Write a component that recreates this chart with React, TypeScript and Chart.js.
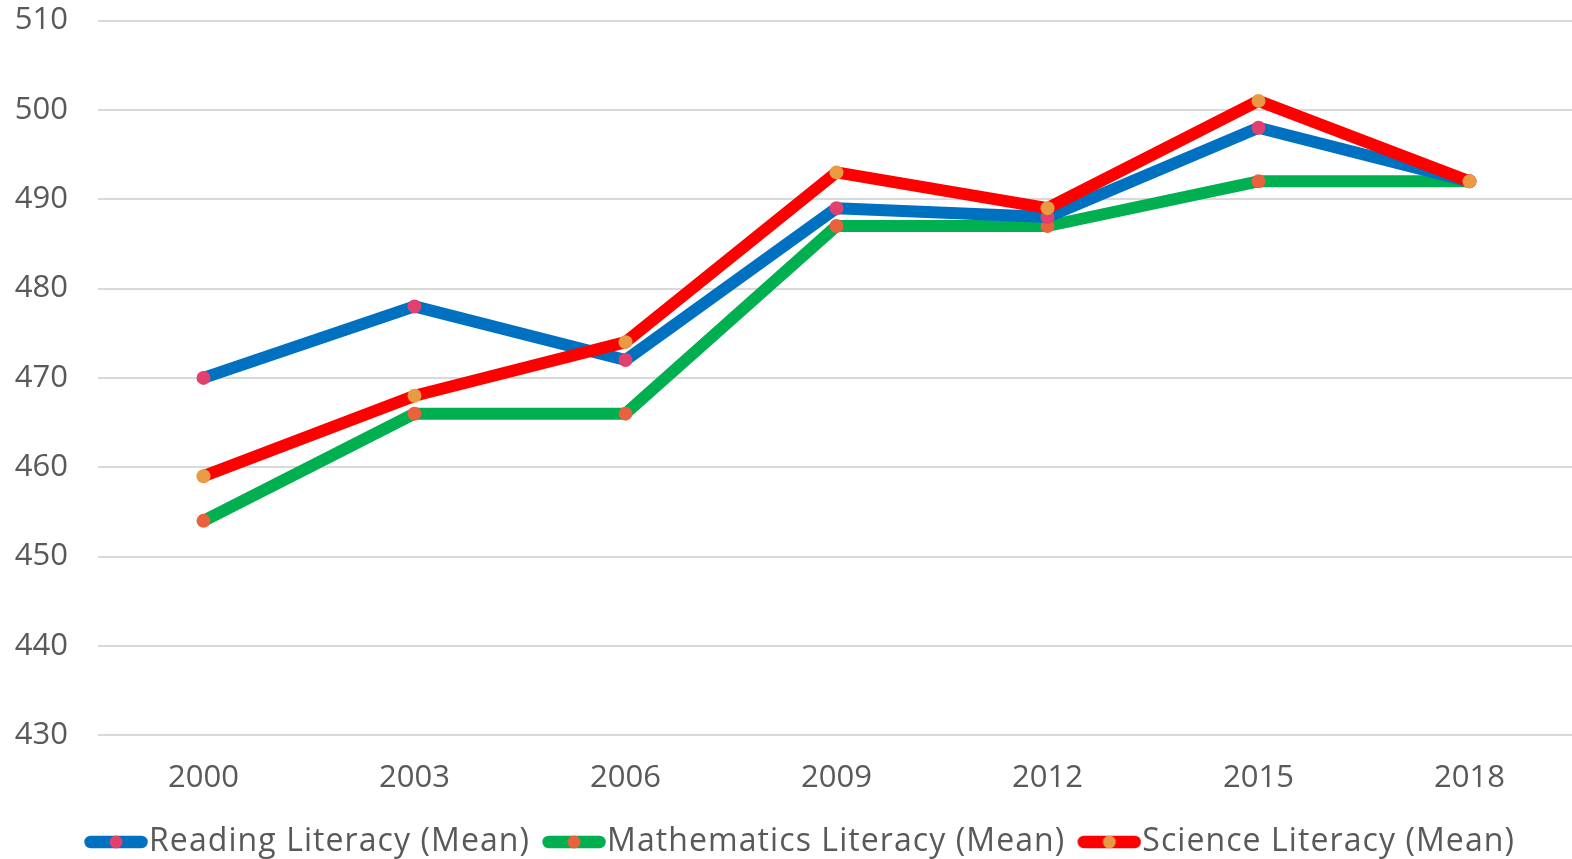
import React, { useEffect, useRef } from "react";
import { Chart, registerables } from "chart.js";

Chart.register(...registerables);

const years = ["2000", "2003", "2006", "2009", "2012", "2015", "2018"];
const readingMean = [470, 478, 472, 489, 488, 498, 492];
const mathMean = [454, 466, 466, 487, 487, 492, 492];
const scienceMean = [459, 468, 474, 493, 489, 501, 492];
const seriesLabels = [
  "Reading Literacy (Mean)",
  "Mathematics Literacy (Mean)",
  "Science Literacy (Mean)",
];
const lineColors = ["#0070c0", "#00b050", "#ff0000"];
const pointColors = ["#e2416f", "#e8623d", "#ea9a42"];

const FONT = "'Open Sans', sans-serif";
const TEXT = "#595959";

// swatch image: blank left part, then a 64px rounded line with a dot
function legendSwatch(line: string, dot: string) {
  const c = document.createElement("canvas");
  c.width = 85;
  c.height = 14;
  const ctx = c.getContext("2d")!;
  const off = 21;
  ctx.strokeStyle = line;
  ctx.lineWidth = 12.5;
  ctx.lineCap = "round";
  ctx.beginPath();
  ctx.moveTo(off + 6.5, 7);
  ctx.lineTo(off + 64 - 6.5, 7);
  ctx.stroke();
  ctx.fillStyle = dot;
  ctx.beginPath();
  ctx.arc(off + 32, 7, 6.5, 0, Math.PI * 2);
  ctx.fill();
  return c;
}

export default function App() {
  const ref = useRef<HTMLCanvasElement>(null);
  useEffect(() => {
    document.body.style.margin = "0";
    const values = [readingMean, mathMean, scienceMean];
    const orders = [1, 2, 0];
    const swatches = values.map((_, i) => legendSwatch(lineColors[i], pointColors[i]));
    const chart: any = new Chart(ref.current!, {
      type: "line",
      data: {
        labels: years,
        datasets: values.map((v, i) => ({
          label: seriesLabels[i],
          data: v,
          borderColor: lineColors[i],
          backgroundColor: lineColors[i],
          borderWidth: 12,
          borderCapStyle: "round" as const,
          borderJoinStyle: "round" as const,
          pointRadius: 7,
          pointBorderWidth: 0,
          pointBackgroundColor: pointColors[i],
          pointBorderColor: pointColors[i],
          tension: 0,
          order: orders[i],
        })),
      },
      options: {
        animation: false,
        responsive: false,
        layout: {
          autoPadding: false,
          padding: { left: 12, right: 0, top: 20.5, bottom: -9 },
        },
        scales: {
          x: {
            offset: true,
            grid: { display: false, drawTicks: false },
            border: { display: false },
            ticks: { color: TEXT, font: { family: FONT, size: 31 }, padding: 24.5 },
            afterFit: (s: any) => {
              s.height = 84.7;
              s.paddingLeft = 0;
              s.paddingRight = 0;
            },
          },
          y: {
            min: 430,
            max: 510,
            grid: { color: "#d9d9d9", lineWidth: 2, drawTicks: false },
            border: { display: false },
            ticks: {
              stepSize: 10,
              color: TEXT,
              font: { family: FONT, size: 31 },
              padding: 30,
            },
            afterFit: (s: any) => {
              s.width = 86;
              s.paddingTop = 0;
              s.paddingBottom = 0;
            },
          },
        },
        plugins: {
          tooltip: { enabled: false },
          legend: {
            position: "bottom",
            labels: {
              usePointStyle: true,
              pointStyleWidth: 55,
              padding: 6,
              color: TEXT,
              font: { family: FONT, size: 32, lineHeight: 1 },
              generateLabels: () =>
                values.map((_, i) => ({
                  text: seriesLabels[i],
                  pointStyle: swatches[i] as any,
                  fillStyle: lineColors[i],
                  strokeStyle: lineColors[i],
                  lineWidth: 0,
                  hidden: false,
                  datasetIndex: i,
                  fontColor: TEXT,
                })),
            },
          },
        },
      },
    });
    // widen legend text slightly (letter spacing) to approximate the original typeface
    const legend = chart.legend;
    if (legend) {
      const spaced = (fn: any, dx: number) =>
        function (this: any, ...args: any[]) {
          const ctx: any = chart.ctx;
          ctx.save();
          ctx.letterSpacing = "1.08px";
          ctx.translate(dx, 0);
          const r = fn.apply(this, args);
          ctx.restore();
          return r;
        };
      legend.fit = spaced(legend.fit, 0);
      legend.draw = spaced(legend.draw, 3);
      chart.update();
    }
    return () => chart.destroy();
  }, []);
  return (
    <div style={{ width: 1572, height: 859, overflow: "hidden" }}>
      <canvas ref={ref} width={1575} height={859} style={{ display: "block" }} />
    </div>
  );
}
